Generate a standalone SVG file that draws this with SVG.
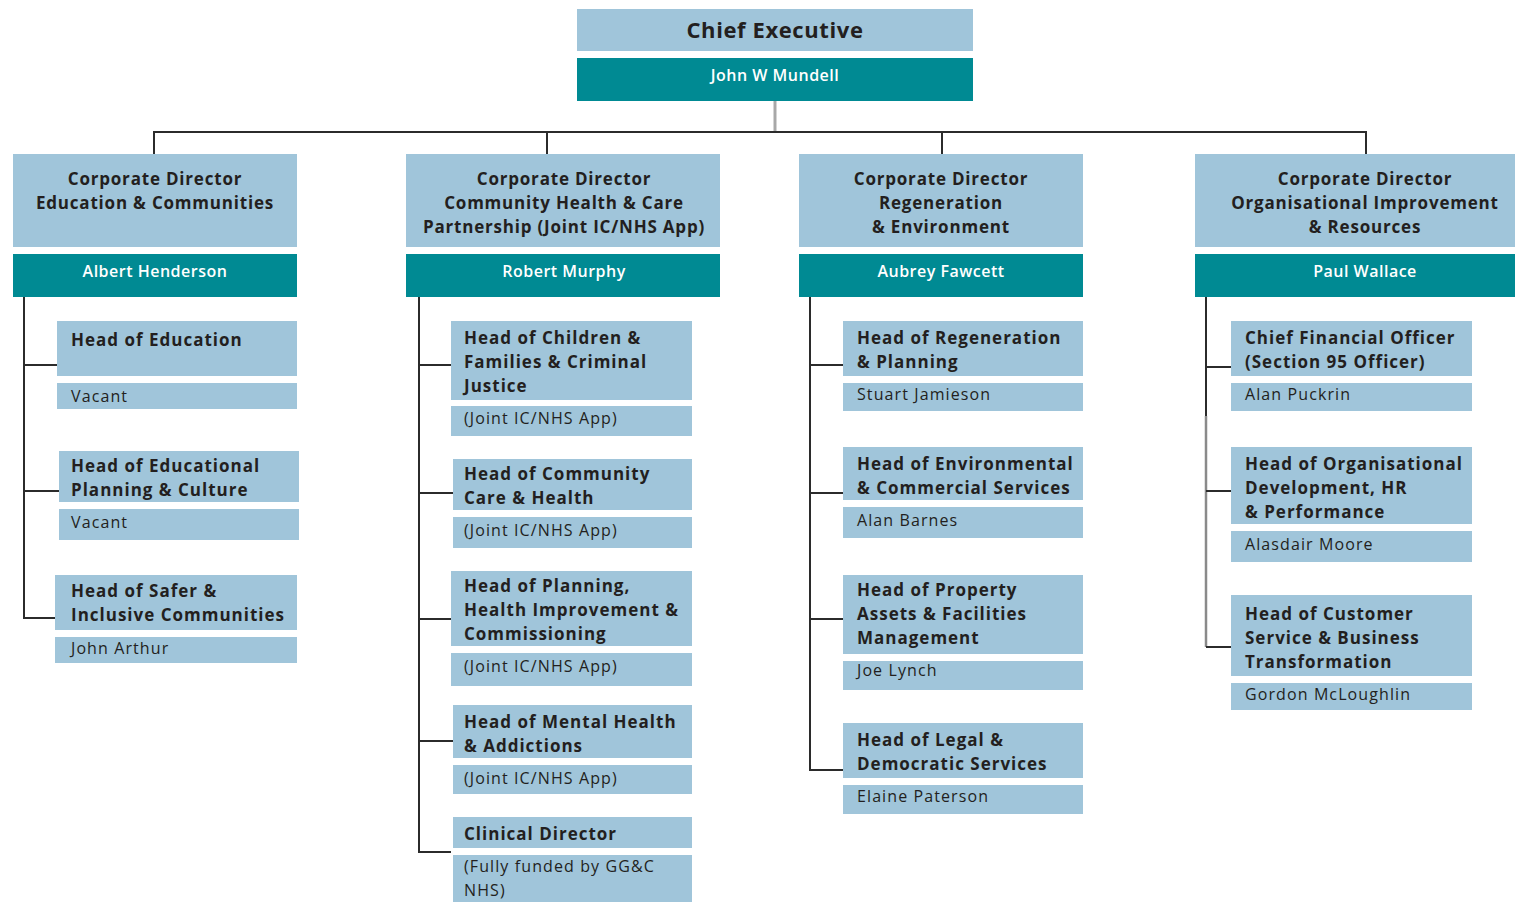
<svg xmlns="http://www.w3.org/2000/svg" width="1515" height="902" viewBox="0 0 1515 902">
<style>
.lb{fill:#a0c5da}
.tl{fill:#008a93}
.ln{stroke:#2b2b2b;stroke-width:2;fill:none}
.t{font-family:"Open Sans","Liberation Sans",sans-serif;fill:#231f20}
.h{font-size:17px;font-weight:700;letter-spacing:1px}
.s{font-size:16px;font-weight:400;letter-spacing:1.1px}
.d{font-size:17px;font-weight:700;text-anchor:middle;letter-spacing:0.8px}
.n{font-family:"Open Sans","Liberation Sans",sans-serif;fill:#ffffff;font-size:16px;font-weight:600;text-anchor:middle;letter-spacing:0.5px}
</style>
<rect width="1515" height="902" fill="#ffffff"/>
<g id="connectors">
<line x1="775" y1="101" x2="775" y2="133" stroke="#a8a8a8" stroke-width="3"/>
<polyline class="ln" points="154,154 154,132 1366,132 1366,154"/>
<line class="ln" x1="547" y1="132" x2="547" y2="154"/>
<line class="ln" x1="942" y1="132" x2="942" y2="154"/>
<polyline class="ln" points="24,297 24,618 55,618"/>
<line class="ln" x1="24" y1="365" x2="57" y2="365"/>
<line class="ln" x1="24" y1="491" x2="59" y2="491"/>
<polyline class="ln" points="419,297 419,852 451,852"/>
<line class="ln" x1="419" y1="365" x2="451" y2="365"/>
<line class="ln" x1="419" y1="493" x2="453" y2="493"/>
<line class="ln" x1="419" y1="619" x2="451" y2="619"/>
<line class="ln" x1="419" y1="741" x2="453" y2="741"/>
<polyline class="ln" points="810,297 810,770 843,770"/>
<line class="ln" x1="810" y1="365" x2="843" y2="365"/>
<line class="ln" x1="810" y1="493" x2="843" y2="493"/>
<line class="ln" x1="810" y1="619" x2="843" y2="619"/>
<line class="ln" x1="1206" y1="297" x2="1206" y2="416"/>
<polyline points="1206,416 1206,647" fill="none" stroke="#8a8a8a" stroke-width="2.5"/>
<line class="ln" x1="1206" y1="647" x2="1231" y2="647"/>
<line class="ln" x1="1206" y1="367" x2="1231" y2="367"/>
<line class="ln" x1="1206" y1="491" x2="1231" y2="491"/>
</g>
<g id="chief-executive">
<rect class="lb" x="577" y="9" width="396" height="42"/>
<rect class="tl" x="577" y="58" width="396" height="43"/>
<text class="t" x="775" y="38" font-size="22" font-weight="700" text-anchor="middle" letter-spacing="0.6">Chief Executive</text>
<text class="n" x="775" y="81">John W Mundell</text>
</g>
<g id="director-education">
<rect class="lb" x="13" y="154" width="284" height="93"/>
<rect class="tl" x="13" y="254" width="284" height="43"/>
<text class="t d" x="155" y="185">Corporate Director</text>
<text class="t d" x="155" y="209">Education &amp; Communities</text>
<text class="n" x="155" y="277">Albert Henderson</text>
</g>
<g id="director-health">
<rect class="lb" x="406" y="154" width="314" height="93"/>
<rect class="tl" x="406" y="254" width="314" height="43"/>
<text class="t d" x="564" y="185">Corporate Director</text>
<text class="t d" x="564" y="209">Community Health &amp; Care</text>
<text class="t d" x="564" y="233">Partnership (Joint IC/NHS App)</text>
<text class="n" x="564" y="277">Robert Murphy</text>
</g>
<g id="director-regeneration">
<rect class="lb" x="799" y="154" width="284" height="93"/>
<rect class="tl" x="799" y="254" width="284" height="43"/>
<text class="t d" x="941" y="185">Corporate Director</text>
<text class="t d" x="941" y="209">Regeneration</text>
<text class="t d" x="941" y="233">&amp; Environment</text>
<text class="n" x="941" y="277">Aubrey Fawcett</text>
</g>
<g id="director-resources">
<rect class="lb" x="1195" y="154" width="320" height="93"/>
<rect class="tl" x="1195" y="254" width="320" height="43"/>
<text class="t d" x="1365" y="185">Corporate Director</text>
<text class="t d" x="1365" y="209">Organisational Improvement</text>
<text class="t d" x="1365" y="233">&amp; Resources</text>
<text class="n" x="1365" y="277">Paul Wallace</text>
</g>
<g id="head-education">
<rect class="lb" x="57" y="321" width="240" height="55"/>
<rect class="lb" x="57" y="383" width="240" height="26"/>
<text class="t h" x="71" y="346">Head of Education</text>
<text class="t s" x="71" y="402">Vacant</text>
</g>
<g id="head-educational-planning">
<rect class="lb" x="59" y="451" width="240" height="51"/>
<rect class="lb" x="59" y="509" width="240" height="31"/>
<text class="t h" x="71" y="472">Head of Educational</text>
<text class="t h" x="71" y="496">Planning &amp; Culture</text>
<text class="t s" x="71" y="528">Vacant</text>
</g>
<g id="head-safer">
<rect class="lb" x="55" y="575" width="242" height="55"/>
<rect class="lb" x="55" y="637" width="242" height="26"/>
<text class="t h" x="71" y="597">Head of Safer &amp;</text>
<text class="t h" x="71" y="621">Inclusive Communities</text>
<text class="t s" x="71" y="654">John Arthur</text>
</g>
<g id="head-children">
<rect class="lb" x="451" y="321" width="241" height="79"/>
<rect class="lb" x="451" y="406" width="241" height="30"/>
<text class="t h" x="464" y="344">Head of Children &amp;</text>
<text class="t h" x="464" y="368">Families &amp; Criminal</text>
<text class="t h" x="464" y="392">Justice</text>
<text class="t s" x="464" y="424">(Joint IC/NHS App)</text>
</g>
<g id="head-community-care">
<rect class="lb" x="453" y="459" width="239" height="51"/>
<rect class="lb" x="453" y="517" width="239" height="31"/>
<text class="t h" x="464" y="480">Head of Community</text>
<text class="t h" x="464" y="504">Care &amp; Health</text>
<text class="t s" x="464" y="536">(Joint IC/NHS App)</text>
</g>
<g id="head-planning-health">
<rect class="lb" x="451" y="571" width="241" height="75"/>
<rect class="lb" x="451" y="653" width="241" height="33"/>
<text class="t h" x="464" y="592">Head of Planning,</text>
<text class="t h" x="464" y="616">Health Improvement &amp;</text>
<text class="t h" x="464" y="640">Commissioning</text>
<text class="t s" x="464" y="672">(Joint IC/NHS App)</text>
</g>
<g id="head-mental-health">
<rect class="lb" x="453" y="705" width="239" height="53"/>
<rect class="lb" x="453" y="765" width="239" height="29"/>
<text class="t h" x="464" y="728">Head of Mental Health</text>
<text class="t h" x="464" y="752">&amp; Addictions</text>
<text class="t s" x="464" y="784">(Joint IC/NHS App)</text>
</g>
<g id="clinical-director">
<rect class="lb" x="453" y="817" width="239" height="31"/>
<rect class="lb" x="453" y="855" width="239" height="47"/>
<text class="t h" x="464" y="840">Clinical Director</text>
<text class="t s" x="464" y="872">(Fully funded by GG&amp;C</text>
<text class="t s" x="464" y="896">NHS)</text>
</g>
<g id="head-regeneration">
<rect class="lb" x="843" y="321" width="240" height="55"/>
<rect class="lb" x="843" y="383" width="240" height="28"/>
<text class="t h" x="857" y="344">Head of Regeneration</text>
<text class="t h" x="857" y="368">&amp; Planning</text>
<text class="t s" x="857" y="400">Stuart Jamieson</text>
</g>
<g id="head-environmental">
<rect class="lb" x="843" y="447" width="240" height="53"/>
<rect class="lb" x="843" y="507" width="240" height="31"/>
<text class="t h" x="857" y="470">Head of Environmental</text>
<text class="t h" x="857" y="494">&amp; Commercial Services</text>
<text class="t s" x="857" y="526">Alan Barnes</text>
</g>
<g id="head-property">
<rect class="lb" x="843" y="575" width="240" height="79"/>
<rect class="lb" x="843" y="661" width="240" height="29"/>
<text class="t h" x="857" y="596">Head of Property</text>
<text class="t h" x="857" y="620">Assets &amp; Facilities</text>
<text class="t h" x="857" y="644">Management</text>
<text class="t s" x="857" y="676">Joe Lynch</text>
</g>
<g id="head-legal">
<rect class="lb" x="843" y="723" width="240" height="55"/>
<rect class="lb" x="843" y="785" width="240" height="29"/>
<text class="t h" x="857" y="746">Head of Legal &amp;</text>
<text class="t h" x="857" y="770">Democratic Services</text>
<text class="t s" x="857" y="802">Elaine Paterson</text>
</g>
<g id="chief-financial-officer">
<rect class="lb" x="1231" y="321" width="241" height="55"/>
<rect class="lb" x="1231" y="383" width="241" height="28"/>
<text class="t h" x="1245" y="344">Chief Financial Officer</text>
<text class="t h" x="1245" y="368">(Section 95 Officer)</text>
<text class="t s" x="1245" y="400">Alan Puckrin</text>
</g>
<g id="head-organisational-development">
<rect class="lb" x="1231" y="447" width="241" height="77"/>
<rect class="lb" x="1231" y="531" width="241" height="31"/>
<text class="t h" x="1245" y="470">Head of Organisational</text>
<text class="t h" x="1245" y="494">Development, HR</text>
<text class="t h" x="1245" y="518">&amp; Performance</text>
<text class="t s" x="1245" y="550">Alasdair Moore</text>
</g>
<g id="head-customer-service">
<rect class="lb" x="1231" y="595" width="241" height="81"/>
<rect class="lb" x="1231" y="683" width="241" height="27"/>
<text class="t h" x="1245" y="620">Head of Customer</text>
<text class="t h" x="1245" y="644">Service &amp; Business</text>
<text class="t h" x="1245" y="668">Transformation</text>
<text class="t s" x="1245" y="700">Gordon McLoughlin</text>
</g>
</svg>
